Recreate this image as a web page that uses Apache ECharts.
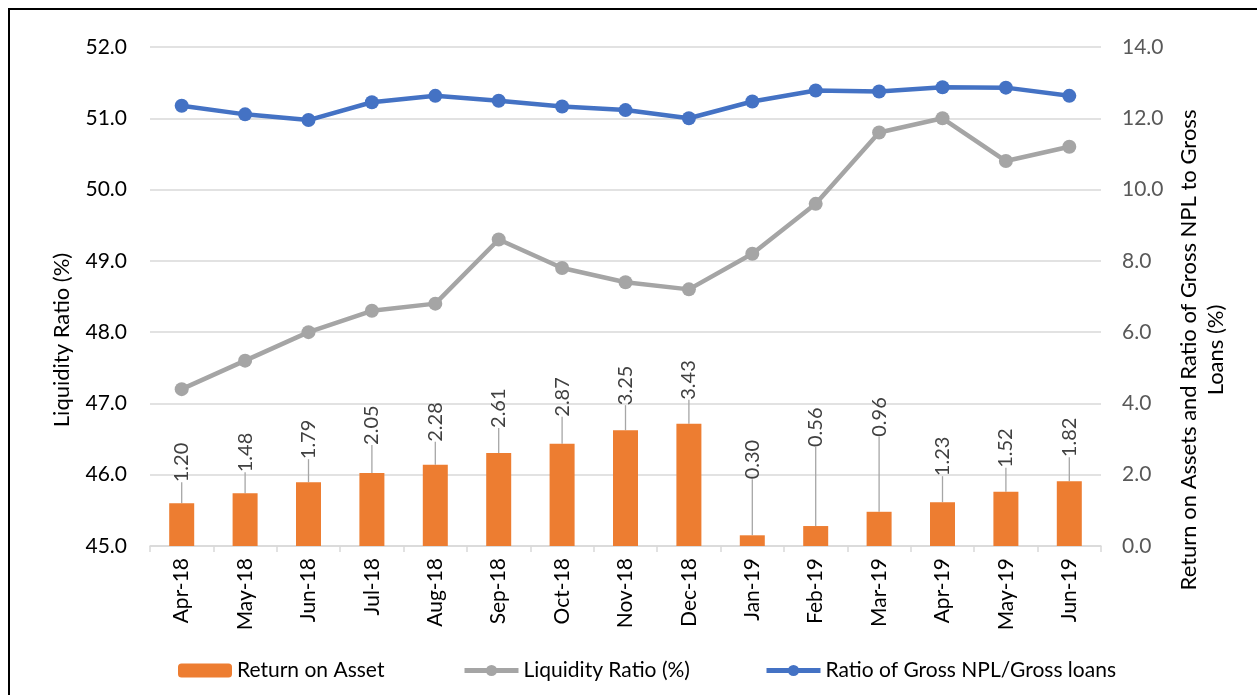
<!DOCTYPE html>
<html>
<head>
<meta charset="utf-8">
<title>Bank indicators</title>
<script src="https://cdn.jsdelivr.net/npm/echarts@6/dist/echarts.min.js"></script>
<style>
  html, body { margin: 0; padding: 0; background: #fff; }
  #frame {
    position: absolute; left: 8px; top: 8px; width: 1300px; height: 720px;
    border-left: 2px solid #000; border-top: 2px solid #000;
  }
  #main { position: absolute; left: 0; top: 0; width: 1257px; height: 695px; }
</style>
</head>
<body>
<div id="frame"></div>
<div id="main"></div>
<script>
const months = ['Apr-18', 'May-18', 'Jun-18', 'Jul-18', 'Aug-18', 'Sep-18', 'Oct-18', 'Nov-18',
  'Dec-18', 'Jan-19', 'Feb-19', 'Mar-19', 'Apr-19', 'May-19', 'Jun-19']
const returnOnAsset = [1.20, 1.48, 1.79, 2.05, 2.28, 2.61, 2.87, 3.25, 3.43, 0.30, 0.56, 0.96, 1.23, 1.52, 1.82]
const liquidityRatio = [47.2, 47.6, 48.0, 48.3, 48.4, 49.3, 48.9, 48.7, 48.6, 49.1, 49.8, 50.8, 51.0, 50.4, 50.6]
const grossNpl = [12.35, 12.11, 11.95, 12.45, 12.63, 12.49, 12.33, 12.23, 12.00, 12.47, 12.78, 12.75, 12.87, 12.86, 12.63]

// how far (px) each ROA label was dragged above its bar in the original
const labelLift = [21, 21, 23, 28, 23, 25, 27, 25, 24, 56, 79, 75, 26, 24, 24]

const font = 'Lato, "Open Sans", sans-serif'
const gridColor = '#d9d9d9'
const legendText = { fontSize: 21, color: '#000', fontFamily: font }

const chart = echarts.init(document.getElementById('main'))

// one legend per item so each sits where excel put it
function legendAt(left, name) {
  return {
    left: left,
    top: 655,
    itemWidth: 54,
    itemHeight: 14,
    itemGap: 0,
    lineStyle: { width: 5 },
    textStyle: legendText,
    data: [name]
  }
}

chart.setOption({
  animation: false,
  textStyle: { fontFamily: font },
  grid: { left: 150, right: 156, top: 47, bottom: 149 },
  legend: [
    legendAt(173, 'Return on Asset'),
    legendAt(457, 'Liquidity Ratio (%)'),
    legendAt(759, 'Ratio of Gross NPL/Gross loans')
  ],
  xAxis: {
    type: 'category',
    data: months,
    axisLine: { lineStyle: { color: gridColor, width: 1.5 } },
    axisTick: { show: true, length: 6, lineStyle: { color: gridColor, width: 1.5 } },
    axisLabel: { rotate: 90, fontSize: 21, color: '#000', margin: 12, interval: 0 }
  },
  yAxis: [{
    type: 'value',
    min: 45,
    max: 52,
    interval: 1,
    axisLine: { show: false },
    axisTick: { show: false },
    splitLine: { lineStyle: { color: gridColor, width: 1.5 } },
    axisLabel: { fontSize: 21, color: '#000', margin: 23, formatter: v => v.toFixed(1) }
  }, {
    type: 'value',
    min: 0,
    max: 14,
    interval: 2,
    axisLine: { show: false },
    axisTick: { show: false },
    splitLine: { show: false },
    axisLabel: { fontSize: 21, color: '#595959', margin: 21, formatter: v => v.toFixed(1) }
  }],
  graphic: [{
    type: 'text',
    x: 62,
    y: 340,
    rotation: Math.PI / 2,
    style: {
      text: 'Liquidity Ratio (%)',
      font: '22px ' + font,
      fill: '#000',
      textAlign: 'center',
      textVerticalAlign: 'middle'
    }
  }, {
    type: 'text',
    x: 1202,
    y: 350,
    rotation: Math.PI / 2,
    style: {
      text: 'Return on Assets and Ratio of Gross NPL to Gross\nLoans (%)',
      font: '22px ' + font,
      fill: '#000',
      lineHeight: 27,
      textAlign: 'center',
      textVerticalAlign: 'middle'
    }
  }],
  series: [{
    name: 'Return on Asset',
    type: 'bar',
    yAxisIndex: 1,
    barWidth: 25,
    data: returnOnAsset,
    itemStyle: { color: '#ED7D31' },
    label: {
      show: true,
      position: 'top',
      distance: 0,
      rotate: 90,
      align: 'left',
      verticalAlign: 'middle',
      fontSize: 20,
      color: '#404040',
      formatter: p => p.value.toFixed(2)
    },
    labelLine: { show: true, lineStyle: { color: '#a6a6a6', width: 1.3 } },
    // label is rotated, so its local x axis points up the page
    labelLayout: p => ({ dx: labelLift[p.dataIndex] })
  }, {
    name: 'Liquidity Ratio (%)',
    type: 'line',
    yAxisIndex: 0,
    data: liquidityRatio,
    symbol: 'circle',
    symbolSize: 14,
    lineStyle: { color: '#A5A5A5', width: 4.5 },
    itemStyle: { color: '#A5A5A5' },
    z: 3
  }, {
    name: 'Ratio of Gross NPL/Gross loans',
    type: 'line',
    yAxisIndex: 1,
    data: grossNpl,
    symbol: 'circle',
    symbolSize: 14,
    lineStyle: { color: '#4472C4', width: 4.5 },
    itemStyle: { color: '#4472C4' },
    z: 4
  }]
})
</script>
</body>
</html>
